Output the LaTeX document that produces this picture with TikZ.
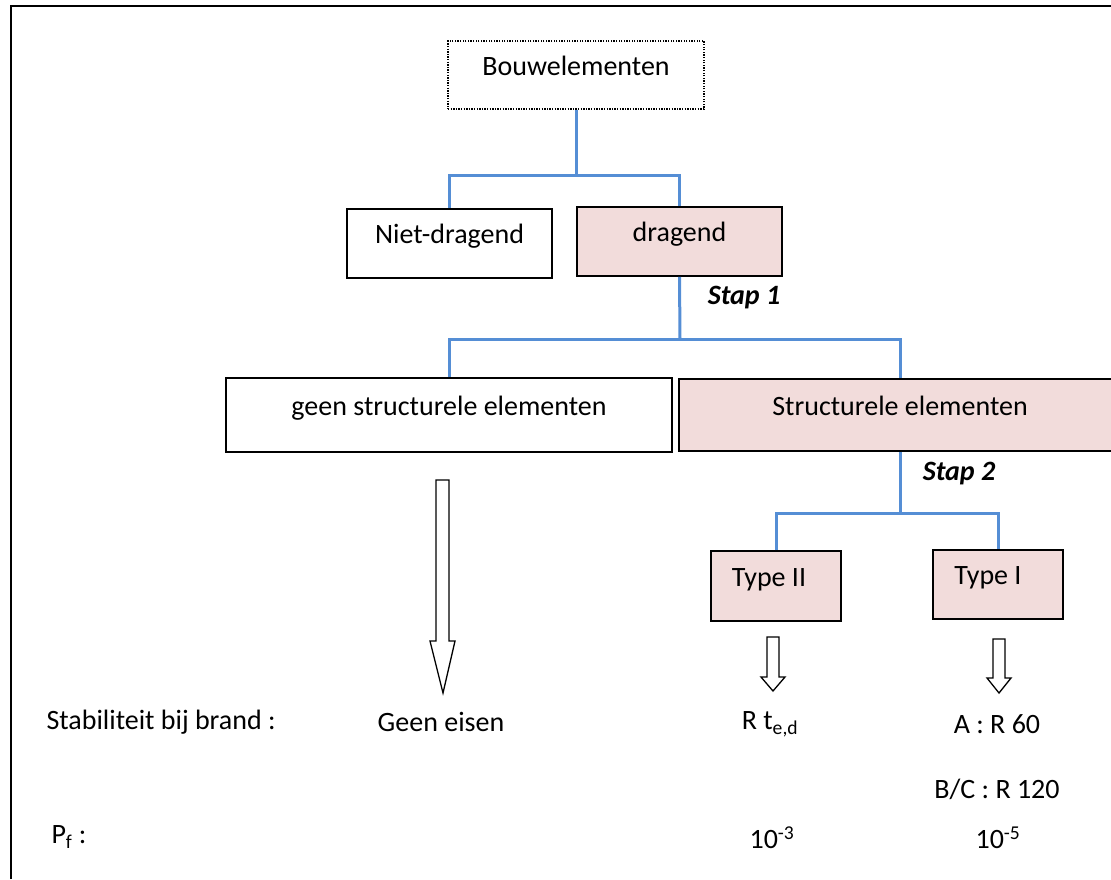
\documentclass[tikz,border=0pt]{standalone}
\usepackage{fontspec}
\setmainfont{Carlito}
\definecolor{linkblue}{RGB}{85,142,213}
\definecolor{boxpink}{RGB}{242,220,219}

\begin{document}
\begin{tikzpicture}[x=1pt, y=-1pt,
    every node/.style={font=\fontsize{28}{33}\selectfont},
    box/.style={draw, line width=1.6pt, inner sep=0pt, text height=0.8em, text depth=0.8em},
    pinkbox/.style={box, fill=boxpink},
    link/.style={draw=linkblue, line width=3pt},
    hollow/.style={draw, line width=1.3pt, fill=white},
    steplabel/.style={font=\fontsize{28}{33}\selectfont\bfseries\itshape}]
    \path[use as bounding box, clip] (0,0) rectangle (1111,879);
    % frame
    \draw[line width=2pt] (11,879) -- (11,6) -- (1111,6);
    % boxes
    \node[box, line width=1.3pt, dash pattern=on 1.3pt off 1.3pt, minimum width=256pt, minimum height=68pt] (bouw) at (576,75) {Bouwelementen};
    \node[box, minimum width=205pt, minimum height=69pt] (niet) at (449.5,243.5) {Niet-dragend};
    \node[pinkbox, minimum width=205pt, minimum height=69pt] (drag) at (679.5,241.5) {dragend};
    \node[box, minimum width=446pt, minimum height=74pt] (geen) at (449,415) {geen structurele elementen};
    \node[pinkbox, minimum width=442pt, minimum height=72pt] (struct) at (900,415) {Structurele elementen};
    \node[pinkbox, minimum width=130pt, minimum height=70pt] (type2) at (776,586) {\kern-14pt Type II};
    \node[pinkbox, minimum width=130pt, minimum height=69pt] (type1) at (998,584.5) {\kern-20pt Type I};
    % connectors
    \coordinate (split1) at (576,175);
    \draw[link] (bouw.south) -- (split1);
    \draw[link] (niet.north) |- (split1) -| (drag.north);
    \coordinate (split2) at (680,339);
    \draw[link] (drag.south) -- (split2);
    \draw[link] (geen.north) |- (split2) -| (struct.north);
    \coordinate (split3) at (900,513);
    \draw[link] (struct.south) -- (split3);
    \draw[link] (type2.north) |- (split3) -| (type1.north);
    % steps
    \node[steplabel] (stap1) at (744,298) {Stap 1};
    \node[steplabel] (stap2) at (959,474) {Stap 2};
    % hollow arrows
    \draw[hollow] (436,480) -- (449,480) -- (449,641) -- (455,641) -- (443,693) -- (430,641) -- (436,641) -- cycle;
    \draw[hollow] (767,637) -- (779,637) -- (779,677) -- (785,677) -- (773,691) -- (761,677) -- (767,677) -- cycle;
    \draw[hollow] (993,639) -- (1005,639) -- (1005,678) -- (1011,678) -- (999,693) -- (987,678) -- (993,678) -- cycle;
    % requirements
    \node[anchor=west] (stab) at (43,722) {Stabiliteit bij brand :};
    \node (geeneis) at (441,722) {Geen eisen};
    \node (rted) at (770,724) {R t\textsubscript{e,d}};
    \node (r60) at (997,724) {A : R 60};
    \node (r120) at (997,789) {B/C : R 120};
    \node[anchor=west] (pf) at (48,837) {P\textsubscript{f} :};
    \node (p3) at (772,838) {10\textsuperscript{-3}};
    \node (p5) at (998,838) {10\textsuperscript{-5}};
\end{tikzpicture}
\end{document}
